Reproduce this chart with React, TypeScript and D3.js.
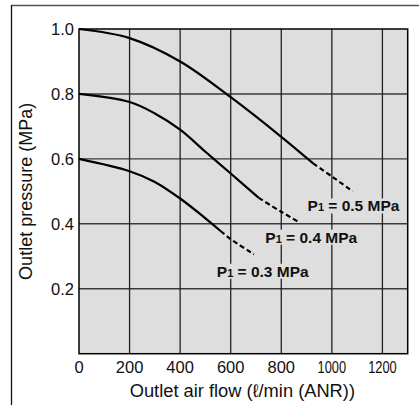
import React, { useEffect, useRef } from "react";
import * as d3 from "d3";

const xTicks = [0, 200, 400, 600, 800, 1000, 1200];
const yTicks = [0.2, 0.4, 0.6, 0.8, 1.0];
const seriesNames = ["0.5", "0.4", "0.3"];

const solid05: [number, number][] = [[0, 1.0], [200, 0.972], [400, 0.9], [600, 0.79], [800, 0.668], [926, 0.586]];
const dash05: [number, number][] = [[926, 0.586], [1000, 0.546], [1082, 0.5]];
const solid04: [number, number][] = [[0, 0.8], [200, 0.775], [300, 0.74], [400, 0.69], [500, 0.622], [600, 0.555], [711, 0.48]];
const dash04: [number, number][] = [[711, 0.48], [800, 0.437], [873, 0.404]];
const solid03: [number, number][] = [[0, 0.6], [200, 0.562], [300, 0.529], [400, 0.478], [500, 0.417], [560, 0.378]];
const dash03: [number, number][] = [[560, 0.378], [600, 0.353], [692, 0.306]];

const labelPos: [number, number][] = [[904, 0.438], [737, 0.342], [545, 0.237]];

export default function App() {
  const ref = useRef<SVGSVGElement>(null);
  useEffect(() => {
    const svg = d3.select(ref.current);
    svg.selectAll("*").remove();
    const L = 79, R = 407.7, T = 29, B = 353.7;
    const x = d3.scaleLinear().domain([0, 1300]).range([L, R]);
    const y = d3.scaleLinear().domain([0, 1.0]).range([B, T]);
    const font = "Liberation Sans, Arial, Helvetica, sans-serif";

    // outer frame
    svg.append("line").attr("x1", 11).attr("x2", 419).attr("y1", 5.5).attr("y2", 5.5)
      .attr("stroke", "#555").attr("stroke-width", 1.5);
    svg.append("line").attr("x1", 11.5).attr("x2", 11.5).attr("y1", 5).attr("y2", 405)
      .attr("stroke", "#111").attr("stroke-width", 1.3);

    svg.append("rect").attr("x", L).attr("y", T).attr("width", R - L).attr("height", B - T)
      .attr("fill", "#dedede");

    const g = svg.append("g");
    g.selectAll(".h").data(yTicks.filter(v => v < 1)).join("line")
      .attr("x1", L).attr("x2", R).attr("y1", d => y(d)).attr("y2", d => y(d))
      .attr("stroke", "#3a3a3a").attr("stroke-width", 1.4);
    g.selectAll(".v").data(xTicks.filter(v => v > 0)).join("line")
      .attr("x1", d => x(d)).attr("x2", d => x(d)).attr("y1", T).attr("y2", B)
      .attr("stroke", "#222").attr("stroke-width", 1.3);

    const line = d3.line<[number, number]>().x(d => x(d[0])).y(d => y(d[1])).curve(d3.curveCatmullRom.alpha(0.5));
    const solids = [solid05, solid04, solid03];
    const dashes = [dash05, dash04, dash03];
    solids.forEach(s => svg.append("path").attr("d", line(s)).attr("fill", "none")
      .attr("stroke", "#000").attr("stroke-width", 2.2));
    dashes.forEach(s => svg.append("path").attr("d", line(s)).attr("fill", "none")
      .attr("stroke", "#000").attr("stroke-width", 2.2).attr("stroke-dasharray", "5,3"));

    // labels
    seriesNames.forEach((n, i) => {
      const lg = svg.append("g");
      const bg = lg.append("rect").attr("fill", "#dedede");
      const t = lg.append("text").attr("x", x(labelPos[i][0])).attr("y", y(labelPos[i][1]))
        .attr("font-family", font).attr("font-weight", "bold").attr("font-size", 15.5).attr("fill", "#111");
      t.append("tspan").text("P");
      t.append("tspan").attr("font-size", 11).text("1");
      t.append("tspan").text(` = ${n} MPa`);
      const bb = (t.node() as SVGTextElement).getBBox();
      bg.attr("x", bb.x - 2).attr("y", bb.y + 1).attr("width", bb.width + 4).attr("height", bb.height - 2);
    });

    // plot border
    svg.append("rect").attr("x", L).attr("y", T).attr("width", R - L).attr("height", B - T)
      .attr("fill", "none").attr("stroke", "#000").attr("stroke-width", 1.5);

    // tick labels
    svg.selectAll(".yt").data(yTicks).join("text")
      .attr("x", 74).attr("y", d => y(d) + 6).attr("text-anchor", "end")
      .attr("font-family", font).attr("font-size", 16.5).attr("fill", "#111")
      .text(d => d.toFixed(1));
    svg.selectAll(".xt").data(xTicks).join("text")
      .attr("x", d => x(d)).attr("y", B + 18.8).attr("text-anchor", "middle")
      .attr("font-family", font).attr("font-size", 16.5).attr("fill", "#111")
      .each(function (d) {
        const s = String(d);
        d3.select(this).text(s);
        if (s.length === 4) d3.select(this).attr("textLength", 28.5).attr("lengthAdjust", "spacingAndGlyphs");
      });

    svg.append("text").attr("x", (L + R) / 2 - 1).attr("y", 397).attr("text-anchor", "middle")
      .attr("font-family", font).attr("font-size", 18.3).attr("fill", "#111")
      .text("Outlet air flow (ℓ/min (ANR))");
    svg.append("text").attr("transform", `translate(32,${(T + B) / 2}) rotate(-90)`).attr("text-anchor", "middle")
      .attr("font-family", font).attr("font-size", 18).attr("fill", "#111")
      .text("Outlet pressure (MPa)");
  }, []);
  return (
    <svg ref={ref} width={419} height={405}
      style={{ position: "absolute", left: 0, top: 0, background: "#fff" }} />
  );
}
